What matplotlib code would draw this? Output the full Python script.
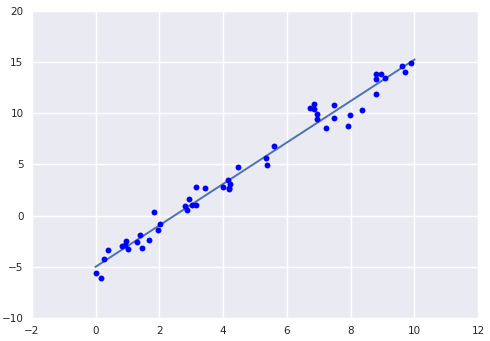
import matplotlib
matplotlib.use("Agg")
import matplotlib.pyplot as plt
import numpy as np

x = [0.00, 0.18, 0.27, 0.40, 0.84, 0.93, 0.96, 1.03, 1.30, 1.40,
     1.46, 1.68, 1.84, 1.97, 2.03, 2.81, 2.88, 2.94, 3.01, 3.14,
     3.16, 3.44, 3.98, 4.16, 4.20, 4.19, 4.17, 4.48, 5.33, 5.39,
     5.58, 6.71, 6.86, 6.86, 6.93, 6.93, 7.21, 7.49, 7.49, 7.90,
     7.99, 8.34, 8.78, 8.78, 8.78, 8.94, 9.09, 9.60, 9.69, 9.88]
y = [-5.63, -6.12, -4.26, -3.38, -2.99, -2.83, -2.47, -3.29, -2.60, -1.92,
     -3.19, -2.41, 0.33, -1.43, -0.85, 0.91, 0.52, 1.59, 1.01, 1.01,
     2.77, 2.67, 2.77, 3.45, 3.06, 2.57, 2.70, 4.72, 5.60, 4.91,
     6.77, 10.48, 10.87, 10.38, 9.89, 9.40, 8.53, 10.77, 9.50, 8.72,
     9.80, 10.28, 13.80, 13.31, 11.85, 13.80, 13.41, 14.58, 13.99, 14.87]

slope, intercept = np.polyfit(x, y, 1)
xfit = np.linspace(0, 10, 1000)
yfit = slope * xfit + intercept

fig = plt.figure(figsize=(4.9, 3.41), dpi=100)
ax = fig.add_axes([0.065, 0.067, 0.911, 0.902])
ax.set_facecolor('#EAEAF2')
ax.grid(True, color='white', linewidth=1)
ax.set_axisbelow(True)
for s in ax.spines.values():
    s.set_visible(False)

ax.scatter(x, y, s=18, color='#0000FF', linewidths=0, zorder=3)
ax.plot(xfit, yfit, color='#4C72B0', linewidth=1.4, zorder=2)

ax.set_xlim(-2, 12)
ax.set_ylim(-10, 20)
ax.set_xticks(np.arange(-2, 13, 2))
ax.set_yticks(np.arange(-10, 21, 5))
ax.tick_params(length=0, labelsize=7.5, labelcolor='#262626', pad=6)
ax.set_yticklabels(['\u221210', '\u22125', '0', '5', '10', '15', '20'])
ax.set_xticklabels(['\u22122', '0', '2', '4', '6', '8', '10', '12'])

fig.savefig('out.png', dpi=100)
